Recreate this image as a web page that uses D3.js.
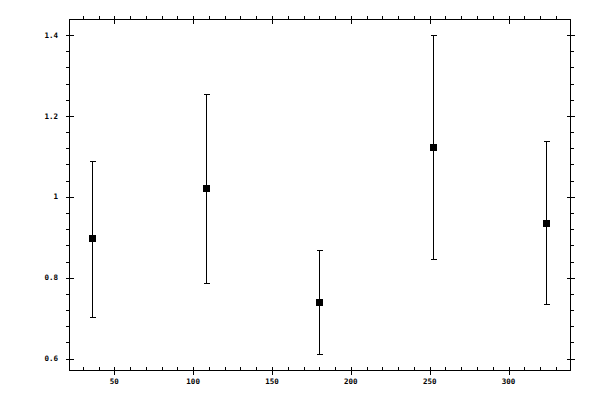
<!DOCTYPE html>
<html>
<head>
<meta charset="utf-8">
<script src="https://cdn.jsdelivr.net/npm/d3@7"></script>
<style>
  body { margin: 0; background: #fff; }
  svg { display: block; }
  text { font-family: "DejaVu Sans Mono", monospace; font-size: 7.5px; font-weight: bold; fill: #000; }
</style>
</head>
<body>
<svg id="chart" width="600" height="400"></svg>
<script>
const xValues = [36, 108, 180, 252, 324];
const yValues = [0.897, 1.021, 0.741, 1.122, 0.936];
const yUpper  = [1.089, 1.255, 0.869, 1.400, 1.137];
const yLower  = [0.704, 0.786, 0.612, 0.845, 0.736];
const xTicks = [50, 100, 150, 200, 250, 300];
const yTicks = [0.6, 0.8, 1.0, 1.2, 1.4];
const xTickLabels = ["50", "100", "150", "200", "250", "300"];
const yTickLabels = ["0.6", "0.8", "1", "1.2", "1.4"];

const L = 69.5, R = 570.5, T = 19.5, B = 370.5;
const svg = d3.select("#chart");
const x = d3.scaleLinear().domain([21.6, 339.3]).range([L, R]);
const y = d3.scaleLinear().domain([0.5705, 1.4385]).range([B, T]);

const xMinor = d3.range(30, 340, 10).filter(v => !xTicks.includes(v));
const yMinor = d3.range(0.6, 1.44, 0.04).map(v => +v.toFixed(2)).filter(v => !yTicks.some(t => Math.abs(t - v) < 1e-6));

const g = svg.append("g").attr("shape-rendering", "crispEdges");

// frame
g.append("rect").attr("x", L).attr("y", T).attr("width", R - L).attr("height", B - T)
  .attr("fill", "none").attr("stroke", "#000").attr("stroke-width", 1);

function tickSet(vals, scale, orient, len) {
  vals.forEach(v => {
    const p = Math.round(scale(v)) + 0.5;
    let x1, y1, x2, y2;
    if (orient === "left")   { x1 = L; x2 = L + len; y1 = y2 = p; }
    if (orient === "right")  { x1 = R; x2 = R + len; y1 = y2 = p; }
    if (orient === "top")    { y1 = T; y2 = T + len; x1 = x2 = p; }
    if (orient === "bottom") { y1 = B; y2 = B + len; x1 = x2 = p; }
    g.append("line").attr("x1", x1).attr("y1", y1).attr("x2", x2).attr("y2", y2)
      .attr("stroke", "#000").attr("stroke-width", 1);
  });
}
// major ticks both sides
tickSet(yTicks, y, "left", -4); tickSet(yTicks, y, "left", 4);
tickSet(yTicks, y, "right", -4); tickSet(yTicks, y, "right", 4);
tickSet(xTicks, x, "top", -4); tickSet(xTicks, x, "top", 4);
tickSet(xTicks, x, "bottom", -4); tickSet(xTicks, x, "bottom", 4);
// minor ticks
tickSet(yMinor, y, "left", -3.5);
tickSet(yMinor, y, "right", 3.5);
tickSet(xMinor, x, "top", -3.5);
tickSet(xMinor, x, "bottom", -3.5);

// labels
svg.append("g").selectAll("text").data(yTicks).join("text")
  .attr("x", 58).attr("y", d => y(d)).attr("dy", "0.35em")
  .attr("text-anchor", "end").text((d, i) => yTickLabels[i]);
svg.append("g").selectAll("text").data(xTicks).join("text")
  .attr("x", d => x(d)).attr("y", 384)
  .attr("text-anchor", "middle").text((d, i) => xTickLabels[i]);

// error bars
const pts = xValues.map((xv, i) => ({ x: xv, y: yValues[i], hi: yUpper[i], lo: yLower[i] }));
const eb = svg.append("g").attr("shape-rendering", "crispEdges").attr("stroke", "#000").attr("stroke-width", 1);
pts.forEach(d => {
  const px = Math.round(x(d.x)) + 0.5;
  const ph = Math.round(y(d.hi)) + 0.5, pl = Math.round(y(d.lo)) + 0.5;
  eb.append("line").attr("x1", px).attr("x2", px).attr("y1", ph).attr("y2", pl);
  eb.append("line").attr("x1", px - 3).attr("x2", px + 3).attr("y1", ph).attr("y2", ph);
  eb.append("line").attr("x1", px - 3).attr("x2", px + 3).attr("y1", pl).attr("y2", pl);
});
svg.append("g").selectAll("rect").data(pts).join("rect")
  .attr("x", d => Math.round(x(d.x)) + 0.5 - 3.5)
  .attr("y", d => Math.round(y(d.y)) + 0.5 - 3.5)
  .attr("width", 7).attr("height", 7).attr("fill", "#000");
</script>
</body>
</html>
